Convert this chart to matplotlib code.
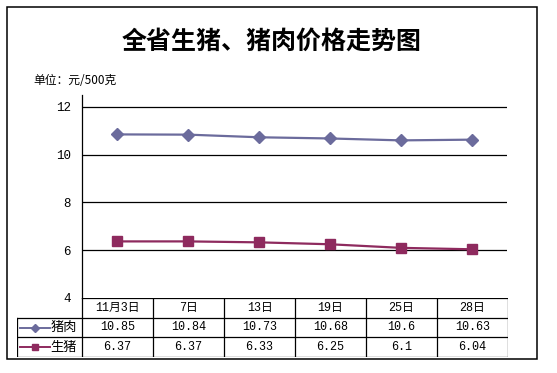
import matplotlib
matplotlib.use("Agg")
import matplotlib.pyplot as plt
from matplotlib.patches import Rectangle
import numpy as np

plt.rcParams['font.family'] = ['Noto Sans CJK SC', 'DejaVu Sans']

title = "全省生猪、猪肉价格走势图"
unit_label = "单位：元/500克"
dates = ["11月3日", "7日", "13日", "19日", "25日", "28日"]
series_names = ["猪肉", "生猪"]
pork = [10.85, 10.84, 10.73, 10.68, 10.6, 10.63]
hog = [6.37, 6.37, 6.33, 6.25, 6.1, 6.04]
pork_text = ["10.85", "10.84", "10.73", "10.68", "10.6", "10.63"]
hog_text = ["6.37", "6.37", "6.33", "6.25", "6.1", "6.04"]
yticks = [4, 6, 8, 10, 12]

colors = ["#6b6b9c", "#8e2a5e"]
markers = ["D", "s"]
msizes = [6, 6.5]

W, H = 557, 373
fig = plt.figure(figsize=(W / 100, H / 100), dpi=100)


def px(x0, y0, x1, y1):
    # pixel box (top-left origin) -> figure fraction rect
    return [x0 / W, 1 - y1 / H, (x1 - x0) / W, (y1 - y0) / H]


# outer frame
fig.patches.append(Rectangle((7 / W, 1 - 359 / H), 530 / W, 352 / H,
                             transform=fig.transFigure, fill=False,
                             ec="black", lw=1.1))

fig.text(272 / W, 1 - 42 / H, title, ha="center", va="center",
         fontsize=18, fontweight="bold")
fig.text(33 / W, 1 - 81 / H, unit_label, ha="left", va="center", fontsize=8.5)

# main plot
ax = fig.add_axes(px(82, 95, 507, 298))
x = np.arange(len(dates))
ax.set_xlim(-0.5, len(dates) - 0.5)
ax.set_ylim(4, 12.5)
for y in yticks[1:]:
    ax.axhline(y, color="black", lw=0.9, zorder=1)
for vals, c, m, ms in zip([pork, hog], colors, markers, msizes):
    ax.plot(x, vals, color=c, lw=1.6, marker=m, ms=ms, zorder=3)
ax.set_yticks(yticks)
ax.set_yticklabels([str(t) for t in yticks], family=['Liberation Mono', 'DejaVu Sans'], fontsize=9)
ax.tick_params(axis="y", length=0, pad=8)
ax.set_xticks([])
for s in ["top", "right", "bottom"]:
    ax.spines[s].set_visible(False)
ax.spines["left"].set_linewidth(0.9)

# data table
lw_cols = 65 / (425 / len(dates))
tb = fig.add_axes(px(17, 298, 508, 357))
tb.set_xlim(-0.5 - lw_cols, len(dates) - 0.5)
tb.set_ylim(3, 0)
tb.axis("off")
left = -0.5 - lw_cols
right = len(dates) - 0.5
kw = dict(color="black", lw=0.9)
tb.plot([-0.5, right], [0, 0], **kw)
for yy in [1, 2, 3]:
    tb.plot([left, right], [yy, yy], **kw)
tb.plot([left, left], [1, 3], **kw)
for i in range(len(dates) + 1):
    tb.plot([i - 0.5, i - 0.5], [0, 3], **kw)
tfam = ['Liberation Mono', 'Noto Sans CJK SC']
for i, d in enumerate(dates):
    tb.text(i, 0.5, d, ha="center", va="center", fontsize=8.5, family=tfam)
for r, texts in enumerate([pork_text, hog_text]):
    for i, t in enumerate(texts):
        tb.text(i, 1.5 + r, t, ha="center", va="center", fontsize=8.5, family=tfam)
    tb.plot([left + 0.04, left + 0.46], [1.5 + r, 1.5 + r], color=colors[r], lw=1.4)
    tb.plot([left + 0.26], [1.5 + r], marker=markers[r], color=colors[r], ms=msizes[r] - 2)
    tb.text(left + 0.47, 1.5 + r, series_names[r], ha="left", va="center", fontsize=9.5)

fig.savefig("out.png", dpi=100, facecolor="white")
